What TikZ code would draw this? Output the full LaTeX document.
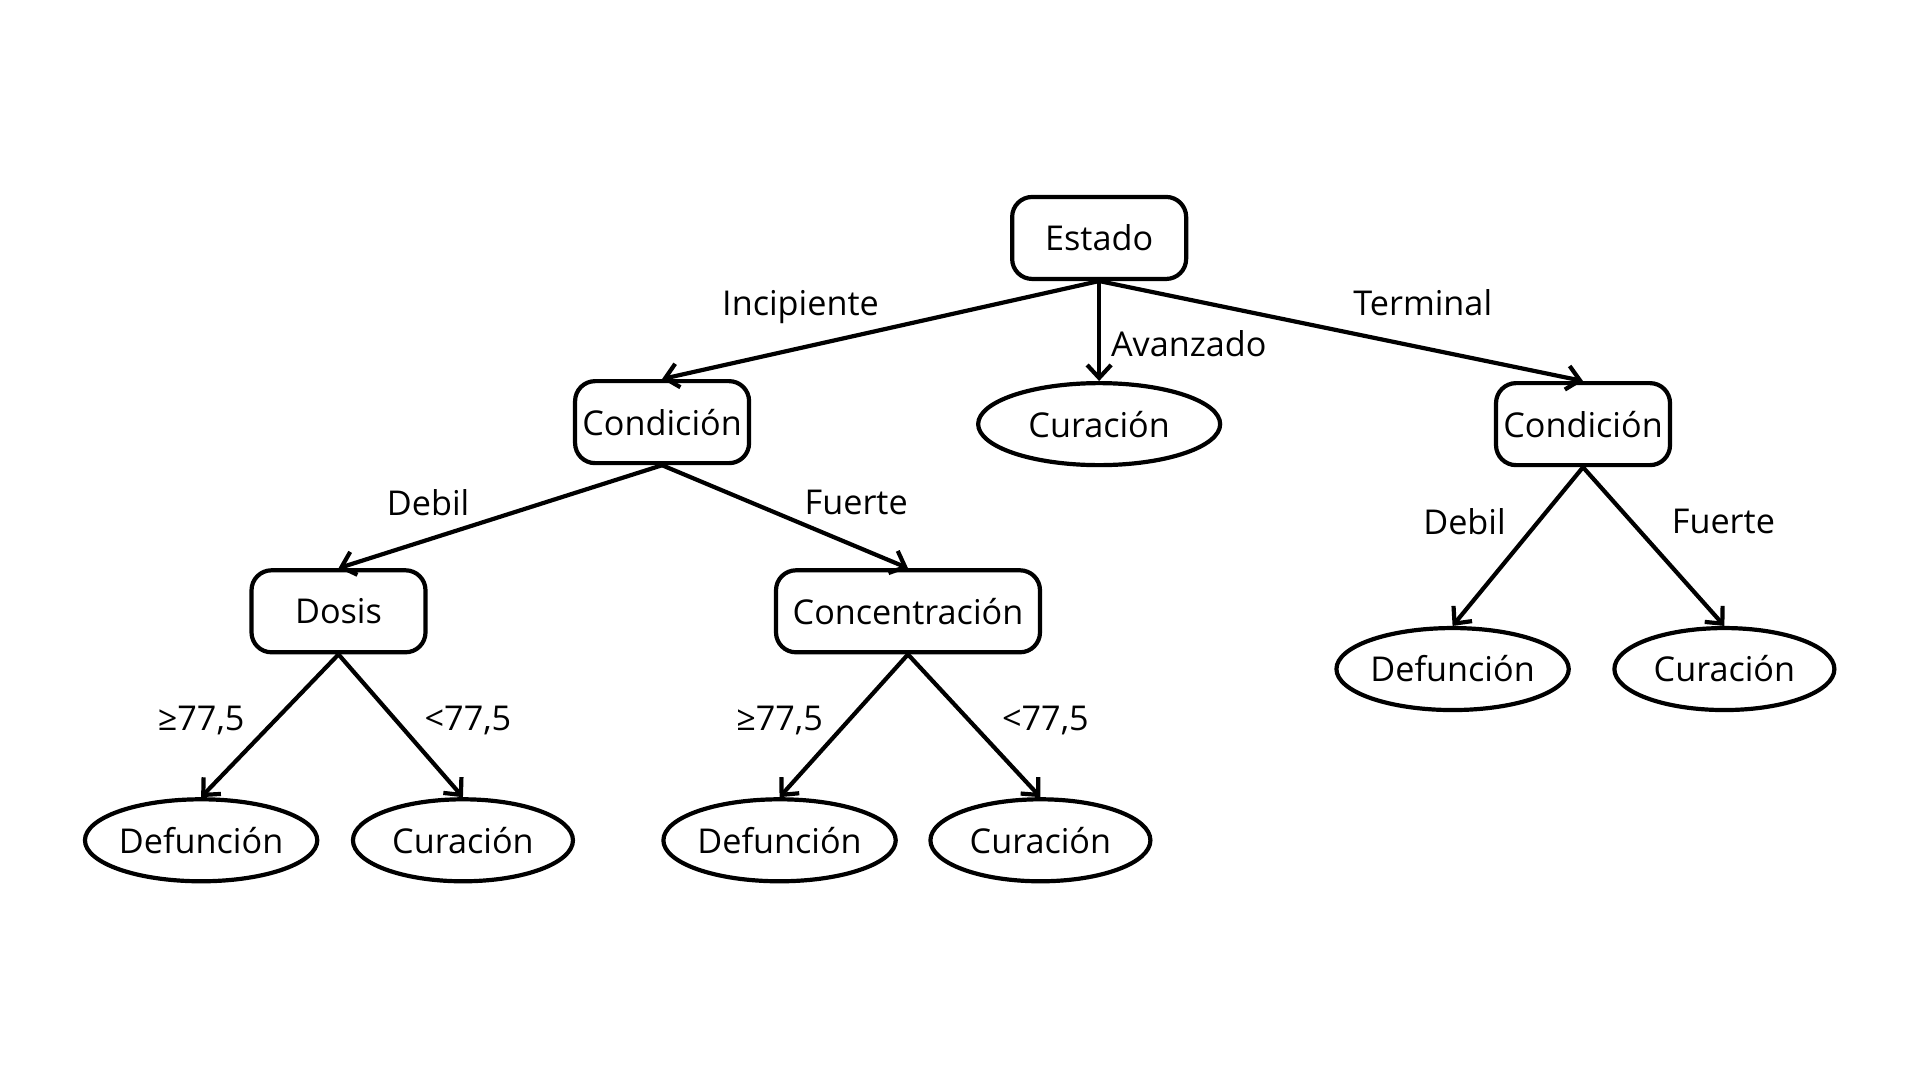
\documentclass[tikz,border=0pt]{standalone}
\usepackage{fontspec}
\setmainfont{Open Sans}
\usetikzlibrary{shapes.geometric,arrows.meta}
\begin{document}
\begin{tikzpicture}[x=0.5pt,y=-0.5pt,
  every node/.style={font=\fontsize{17.1}{20}\selectfont},
  dec/.style={draw,line width=2.1pt,rounded corners=10pt,minimum width=87pt,minimum height=41pt,inner sep=0pt},
  leaf/.style={draw,ellipse,line width=2.1pt,minimum height=41pt,inner sep=0pt},
  edge/.style={draw,line width=2.1pt,-{Straight Barb[length=6.5pt,width=12pt,line width=2.1pt]}},
  lbl/.style={inner sep=0pt}]
\useasboundingbox[fill=white] (0,0) rectangle (1920,1080);
\begin{scope}[scale=0.9956]
\node[dec] (est) at (1104,239) {Estado};
\node[dec] (c1) at (665,424) {Condición};
\node[leaf,minimum width=121pt] (cm) at (1104,426) {Curación};
\node[dec] (c2) at (1590,426) {Condición};
\node[dec] (dos) at (340,614) {Dosis};
\node[dec,minimum width=132pt] (con) at (912,614) {Concentración};
\node[leaf,minimum width=115pt] (d1) at (202,844) {Defunción};
\node[leaf,minimum width=110pt] (k1) at (465,844) {Curación};
\node[leaf,minimum width=115pt] (d2) at (783,844) {Defunción};
\node[leaf,minimum width=110pt] (k2) at (1045,844) {Curación};
\node[leaf,minimum width=115pt] (d3) at (1459,672) {Defunción};
\node[leaf,minimum width=110pt] (k3) at (1732,672) {Curación};
\draw[edge] (est.south) -- (c1.north);
\draw[edge] (est.south) -- (cm.north);
\draw[edge] (est.south) -- (c2.north);
\draw[edge] (c1.south) -- (dos.north);
\draw[edge] (c1.south) -- (con.north);
\draw[edge] (dos.south) -- (d1.north);
\draw[edge] (dos.south) -- (k1.north);
\draw[edge] (con.south) -- (d2.north);
\draw[edge] (con.south) -- (k2.north);
\draw[edge] (c2.south) -- (d3.north);
\draw[edge] (c2.south) -- (k3.north);
\node[lbl,text depth=0pt] (l1) at (804,304) {Incipiente};
\node[lbl] (l2) at (1194,345) {Avanzado};
\node[lbl] (l3) at (1429,304) {Terminal};
\node[lbl] (l4) at (430,505) {Debil};
\node[lbl] (l5) at (860,505) {Fuerte};
\node[lbl] (l6) at (1471,524) {Debil};
\node[lbl] (l7) at (1731,524) {Fuerte};
\node[lbl] (l8) at (202,724) {≥77,5};
\node[lbl] (l9) at (470,724) {<77,5};
\node[lbl] (l10) at (783,724) {≥77,5};
\node[lbl] (l11) at (1050,724) {<77,5};
\end{scope}
\end{tikzpicture}
\end{document}
